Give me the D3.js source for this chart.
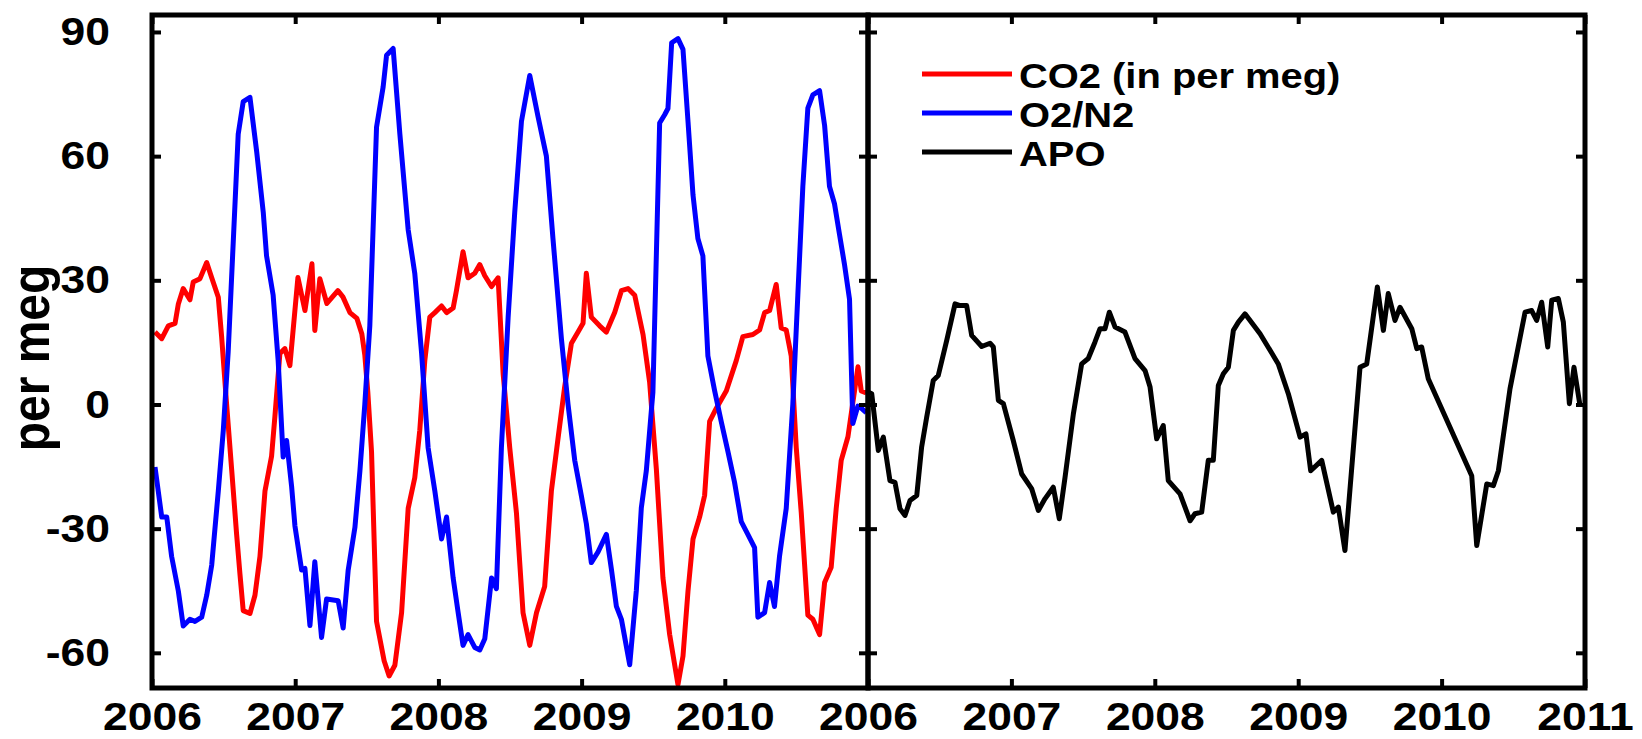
<!DOCTYPE html>
<html>
<head>
<meta charset="utf-8">
<script src="https://cdn.jsdelivr.net/npm/d3@7"></script>
<style>
body { margin: 0; background: #fff; }
text { font-family: "Liberation Sans", Arial, Helvetica, sans-serif; font-weight: bold; fill: #000; }
</style>
</head>
<body>
<script>
const yTicks = [-60, -30, 0, 30, 60, 90];
const leftYears = [2006, 2007, 2008, 2009, 2010];
const rightYears = [2006, 2007, 2008, 2009, 2010, 2011];
const legendLabels = ['CO2 (in per meg)', 'O2/N2', 'APO'];
const legendColors = ['#ff0000', '#0000ff', '#000000'];

// [decimal year, per meg]
const co2 = [[2006.021,17.5],[2006.068,15.9],[2006.114,19.0],[2006.161,19.6],[2006.184,24.3],[2006.218,28.0],[2006.265,25.3],[2006.288,29.6],[2006.335,30.4],[2006.382,34.3],[2006.417,30.6],[2006.463,25.9],[2006.486,16.5],[2006.521,0.1],[2006.556,-15.6],[2006.591,-31.4],[2006.614,-40.9],[2006.637,-49.8],[2006.684,-50.5],[2006.719,-46.1],[2006.754,-36.7],[2006.789,-20.9],[2006.835,-12.5],[2006.858,-3.0],[2006.893,12.3],[2006.928,13.5],[2006.963,9.4],[2007.019,30.7],[2007.068,22.7],[2007.117,34.0],[2007.137,17.9],[2007.172,30.4],[2007.221,24.4],[2007.298,27.5],[2007.333,26.0],[2007.382,22.2],[2007.431,20.8],[2007.465,17.1],[2007.486,12.0],[2007.507,3.0],[2007.533,-11.4],[2007.568,-52.4],[2007.621,-61.9],[2007.656,-65.6],[2007.696,-63.0],[2007.743,-50.3],[2007.789,-25.1],[2007.835,-17.7],[2007.870,-6.2],[2007.905,10.6],[2007.940,21.1],[2007.975,22.2],[2008.022,23.8],[2008.057,22.2],[2008.103,23.3],[2008.126,27.5],[2008.172,36.9],[2008.207,30.6],[2008.254,31.7],[2008.289,33.8],[2008.324,31.1],[2008.371,28.5],[2008.417,30.6],[2008.452,7.5],[2008.498,-10.4],[2008.545,-26.2],[2008.591,-50.3],[2008.638,-58.2],[2008.685,-50.3],[2008.742,-44.0],[2008.789,-20.9],[2008.835,-8.3],[2008.882,4.3],[2008.929,14.8],[2008.975,17.5],[2009.010,19.6],[2009.033,31.7],[2009.068,21.1],[2009.126,19.0],[2009.173,17.5],[2009.231,22.2],[2009.278,27.5],[2009.324,28.0],[2009.371,26.4],[2009.429,16.9],[2009.475,5.4],[2009.522,-15.6],[2009.568,-41.9],[2009.615,-55.6],[2009.673,-67.7],[2009.708,-60.8],[2009.743,-45.1],[2009.778,-32.5],[2009.824,-27.2],[2009.859,-22.0],[2009.894,-4.1],[2009.941,-0.9],[2010.011,3.3],[2010.080,10.6],[2010.126,16.4],[2010.196,16.9],[2010.243,18.0],[2010.278,22.2],[2010.313,22.7],[2010.359,29.0],[2010.394,18.5],[2010.429,18.0],[2010.464,11.7],[2010.499,-10.4],[2010.534,-26.2],[2010.580,-50.9],[2010.615,-51.9],[2010.662,-55.6],[2010.697,-43.0],[2010.743,-39.3],[2010.778,-25.1],[2010.813,-13.5],[2010.860,-7.8],[2010.930,9.1],[2010.953,3.3],[2010.988,2.8]];

const o2n2 = [[2006.021,-15.1],[2006.068,-27.2],[2006.103,-27.2],[2006.137,-36.7],[2006.184,-45.1],[2006.218,-53.5],[2006.265,-51.9],[2006.300,-52.4],[2006.347,-51.4],[2006.382,-46.1],[2006.417,-38.8],[2006.463,-20.9],[2006.498,-6.2],[2006.532,12.7],[2006.567,39.0],[2006.602,65.3],[2006.637,73.2],[2006.684,74.2],[2006.731,61.1],[2006.777,46.4],[2006.800,35.9],[2006.846,26.4],[2006.881,10.6],[2006.916,-12.7],[2006.940,-8.7],[2006.975,-19.8],[2006.998,-29.3],[2007.045,-40.0],[2007.068,-39.6],[2007.103,-53.4],[2007.137,-38.0],[2007.184,-56.3],[2007.219,-47.0],[2007.300,-47.4],[2007.335,-54.0],[2007.370,-40.0],[2007.417,-29.7],[2007.452,-16.0],[2007.486,0.0],[2007.521,19.0],[2007.568,67.0],[2007.614,76.7],[2007.638,84.4],[2007.684,86.0],[2007.731,65.3],[2007.789,42.2],[2007.835,31.7],[2007.882,12.7],[2007.928,-10.4],[2007.975,-20.9],[2008.022,-32.5],[2008.057,-27.2],[2008.103,-41.9],[2008.138,-50.3],[2008.172,-58.2],[2008.207,-55.6],[2008.254,-58.7],[2008.289,-59.3],[2008.324,-56.6],[2008.371,-41.9],[2008.405,-44.5],[2008.440,-10.4],[2008.487,21.1],[2008.533,46.4],[2008.580,68.4],[2008.638,79.5],[2008.696,69.5],[2008.754,60.0],[2008.800,40.1],[2008.859,15.9],[2008.905,0.1],[2008.952,-13.5],[2008.998,-22.0],[2009.033,-28.8],[2009.068,-38.2],[2009.115,-35.6],[2009.173,-31.4],[2009.208,-39.8],[2009.243,-48.8],[2009.278,-51.9],[2009.336,-62.9],[2009.382,-45.0],[2009.417,-25.0],[2009.452,-16.0],[2009.498,3.0],[2009.545,68.0],[2009.580,70.0],[2009.603,71.5],[2009.629,87.4],[2009.673,88.4],[2009.708,85.8],[2009.743,68.4],[2009.778,50.6],[2009.812,40.1],[2009.847,35.9],[2009.882,11.7],[2009.929,3.3],[2009.975,-4.1],[2010.022,-11.4],[2010.068,-18.8],[2010.115,-28.3],[2010.161,-31.4],[2010.208,-34.6],[2010.231,-51.4],[2010.278,-50.3],[2010.313,-43.0],[2010.347,-48.8],[2010.382,-36.7],[2010.429,-25.1],[2010.475,0.1],[2010.510,26.4],[2010.545,52.7],[2010.580,71.6],[2010.615,74.8],[2010.662,75.8],[2010.697,67.4],[2010.731,52.7],[2010.766,48.5],[2010.801,41.1],[2010.836,33.8],[2010.871,25.4],[2010.894,-4.6],[2010.929,-0.4],[2010.953,-0.9],[2010.988,-2.0]];

const apo = [[2006.000,3.0],[2006.026,2.6],[2006.072,-11.1],[2006.107,-7.9],[2006.153,-18.4],[2006.188,-18.8],[2006.223,-25.2],[2006.258,-26.8],[2006.293,-23.2],[2006.340,-22.0],[2006.374,-10.3],[2006.409,-3.1],[2006.455,5.8],[2006.490,7.0],[2006.549,15.5],[2006.607,24.3],[2006.642,23.9],[2006.688,23.9],[2006.723,16.7],[2006.793,14.0],[2006.851,14.8],[2006.874,13.9],[2006.909,1.0],[2006.944,0.2],[2007.013,-8.7],[2007.072,-16.8],[2007.142,-20.4],[2007.188,-25.6],[2007.234,-22.8],[2007.292,-20.0],[2007.334,-27.6],[2007.374,-17.6],[2007.432,-2.3],[2007.490,9.8],[2007.536,11.1],[2007.583,15.1],[2007.618,18.3],[2007.653,18.3],[2007.683,22.3],[2007.723,18.7],[2007.792,17.5],[2007.862,11.1],[2007.932,8.2],[2007.967,4.2],[2008.013,-8.3],[2008.059,-5.1],[2008.094,-18.4],[2008.176,-21.6],[2008.246,-28.1],[2008.280,-26.4],[2008.327,-26.0],[2008.373,-13.5],[2008.408,-13.5],[2008.443,4.6],[2008.478,7.4],[2008.513,9.0],[2008.548,17.9],[2008.583,19.9],[2008.629,21.9],[2008.734,17.1],[2008.861,9.8],[2008.931,2.6],[2009.013,-7.9],[2009.054,-7.1],[2009.087,-16.0],[2009.164,-13.5],[2009.245,-26.0],[2009.280,-24.8],[2009.326,-35.3],[2009.431,9.0],[2009.478,9.8],[2009.552,28.4],[2009.594,17.9],[2009.628,26.8],[2009.675,20.3],[2009.710,23.5],[2009.792,18.3],[2009.827,13.5],[2009.861,13.9],[2009.907,6.2],[2010.210,-17.2],[2010.245,-34.1],[2010.315,-19.2],[2010.361,-19.6],[2010.396,-16.0],[2010.477,3.8],[2010.582,22.3],[2010.628,22.7],[2010.663,20.3],[2010.698,24.7],[2010.740,13.9],[2010.768,25.2],[2010.814,25.6],[2010.849,19.9],[2010.891,0.2],[2010.923,9.0],[2010.965,-0.2]];

const W = 1642, H = 739;
const plotTop = 15, plotBottom = 688;
const stretch = 1.14;   // the source figure is a bit wider than tall

var svg = d3.select('body').append('svg')
    .attr('width', W)
    .attr('height', H);

var y = d3.scaleLinear().domain([-68.5, 94.1]).range([plotBottom, plotTop]);

// plain hyphen for negatives, like the original
var numFormat = d => String(d);

function cleanAxis(g) {
    g.select('.domain').remove();
    g.attr('font-size', null).attr('font-family', null);
    g.selectAll('.tick line').attr('stroke', '#000').attr('stroke-width', 4);
}

function drawPanel(x0, x1, years, series, withYLabels, id) {
    let x = d3.scaleLinear().domain([2006, 2011]).range([x0, x1]);

    svg.append('clipPath').attr('id', id)
        .append('rect')
        .attr('x', x0).attr('y', plotTop)
        .attr('width', x1 - x0).attr('height', plotBottom - plotTop);

    let line = d3.line().x(d => x(d[0])).y(d => y(d[1]));
    let g = svg.append('g').attr('clip-path', `url(#${id})`);
    series.forEach(s => {
        g.append('path')
            .datum(s.data)
            .attr('fill', 'none')
            .attr('stroke', s.color)
            .attr('stroke-width', 5)
            .attr('stroke-linejoin', 'round')
            .attr('d', line);
    });

    let gb = svg.append('g')
        .attr('transform', `translate(0,${plotBottom})`)
        .call(d3.axisBottom(x).tickValues(years).tickFormat(numFormat).tickSize(-9))
        .call(cleanAxis);
    gb.selectAll('.tick text')
        .attr('y', 0).attr('dy', null)
        .attr('font-size', 39)
        .attr('transform', `translate(0,42) scale(${stretch},1)`);

    svg.append('g')
        .attr('transform', `translate(0,${plotTop})`)
        .call(d3.axisTop(x).tickValues(years).tickFormat('').tickSize(-9))
        .call(cleanAxis);

    let gl = svg.append('g')
        .attr('transform', `translate(${x0},0)`)
        .call(d3.axisLeft(y).tickValues(yTicks).tickFormat(withYLabels ? numFormat : '').tickSize(-9))
        .call(cleanAxis);
    gl.selectAll('.tick text')
        .attr('x', 0).attr('dy', '0.35em')
        .attr('font-size', 39)
        .attr('transform', `translate(-42,-1) scale(${stretch},1)`);

    svg.append('g')
        .attr('transform', `translate(${x1},0)`)
        .call(d3.axisRight(y).tickValues(yTicks).tickFormat('').tickSize(-9))
        .call(cleanAxis);

    svg.append('rect')
        .attr('x', x0).attr('y', plotTop)
        .attr('width', x1 - x0).attr('height', plotBottom - plotTop)
        .attr('fill', 'none')
        .attr('stroke', '#000')
        .attr('stroke-width', 5);
}

drawPanel(152, 868, leftYears, [
    {data: co2, color: legendColors[0]},
    {data: o2n2, color: legendColors[1]}
], true, 'clipL');

drawPanel(868, 1585, rightYears, [
    {data: apo, color: legendColors[2]}
], false, 'clipR');

svg.append('text')
    .attr('text-anchor', 'middle')
    .attr('font-size', 48)
    .attr('transform', 'translate(49,358) scale(1.1,1) rotate(-90)')
    .text('per meg');

let legend = svg.append('g').selectAll('g')
    .data(legendLabels)
    .enter()
    .append('g')
    .attr('transform', (d, i) => `translate(0,${88 + i*39})`);
legend.append('line')
    .attr('x1', 922).attr('x2', 1012)
    .attr('y1', -14).attr('y2', -14)
    .attr('stroke', (d, i) => legendColors[i])
    .attr('stroke-width', 5);
legend.append('text')
    .attr('font-size', 35)
    .attr('transform', `translate(1019,0) scale(${stretch},1)`)
    .text(d => d);
</script>
</body>
</html>
